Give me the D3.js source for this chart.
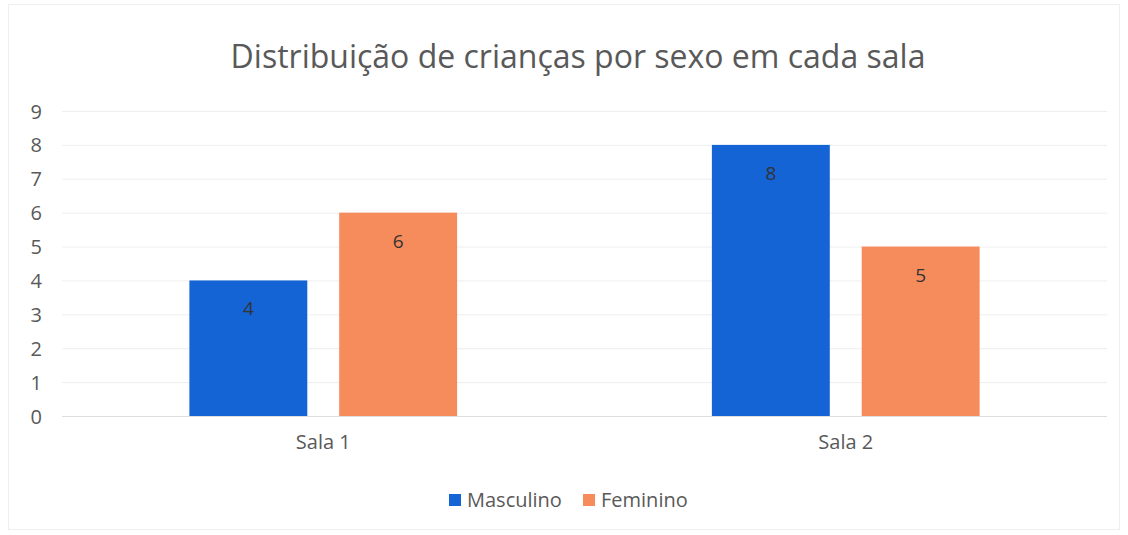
<!DOCTYPE html>
<html>
<head>
<meta charset="utf-8">
<script src="https://cdn.jsdelivr.net/npm/d3@7"></script>
<style>
  body { margin: 0; background: #fff; }
  svg text { font-family: "Open Sans", "Noto Sans", sans-serif; fill: #595959; }
</style>
</head>
<body>
<svg id="chart" width="1128" height="535"></svg>
<script>
const categories = ["Sala 1", "Sala 2"];
const series = ["Masculino", "Feminino"];
const masculino = [4, 8];
const feminino = [6, 5];
const yTicks = [0, 1, 2, 3, 4, 5, 6, 7, 8, 9];
const colors = ["#1464d6", "#f68b5c"];

const values = [masculino, feminino];
const rows = categories.map((c, i) => ({ cat: c, vals: series.map((s, j) => ({ s: s, v: values[j][i] })) }));

let svg = d3.select("#chart"),
    width = +svg.attr("width"),
    height = +svg.attr("height"),
    margin = { top: 111, right: 21, bottom: 119, left: 62 };

svg.append("rect")
    .attr("x", 8.5).attr("y", 4.5)
    .attr("width", width - 17).attr("height", height - 10)
    .attr("fill", "#fff").attr("stroke", "#eeeeee");

let x0 = d3.scaleBand().domain(categories)
    .range([margin.left, width - margin.right])
    .paddingInner(0.4876)
    .paddingOuter(0.2438);

let x1 = d3.scaleBand().domain(series)
    .range([0, x0.bandwidth()])
    .paddingInner(0.213);

let y = d3.scaleLinear().domain([0, 9])
    .range([height - margin.bottom, margin.top]);

// gridlines
svg.append("g")
    .selectAll("line").data(yTicks).enter().append("line")
    .attr("x1", margin.left).attr("x2", width - margin.right)
    .attr("y1", d => y(d) + 0.5).attr("y2", d => y(d) + 0.5)
    .attr("stroke", d => d === 0 ? "#dddddd" : "#eeeeee");

// y axis
let yAxis = svg.append("g")
    .attr("transform", "translate(" + (margin.left - 20) + ",0)")
    .call(d3.axisLeft(y).tickValues(yTicks).tickSize(0).tickPadding(0));
yAxis.select(".domain").remove();
yAxis.selectAll("text").style("font-size", "20px").attr("dy", "0.35em");

// x axis labels
let xAxis = svg.append("g")
    .attr("transform", "translate(0," + (height - margin.bottom) + ")")
    .call(d3.axisBottom(x0).tickSize(0).tickPadding(19));
xAxis.select(".domain").remove();
xAxis.selectAll("text").style("font-size", "20px");

// bars
let groups = svg.append("g").selectAll("g").data(rows).enter().append("g")
    .attr("transform", d => "translate(" + x0(d.cat) + ",0)");

groups.selectAll("rect").data(d => d.vals).enter().append("rect")
    .attr("x", d => x1(d.s))
    .attr("y", d => y(d.v))
    .attr("width", x1.bandwidth())
    .attr("height", d => y(0) - y(d.v))
    .attr("fill", (d, i) => colors[i]);

groups.selectAll("text.lbl").data(d => d.vals).enter().append("text")
    .classed("lbl", true)
    .attr("x", d => x1(d.s) + x1.bandwidth() / 2)
    .attr("y", d => y(d.v) + 35)
    .attr("text-anchor", "middle")
    .style("font-size", "19px")
    .style("fill", "#333")
    .text(d => d.v);

// title
svg.append("text")
    .attr("x", 578).attr("y", 68)
    .attr("text-anchor", "middle")
    .style("font-size", "32px")
    .text("Distribuição de crianças por sexo em cada sala");

// legend
let legend = svg.append("g").attr("transform", "translate(449,507)");
let lx = [0, 134];
series.forEach((s, i) => {
    legend.append("rect")
        .attr("x", lx[i]).attr("y", -13)
        .attr("width", 12).attr("height", 12)
        .attr("fill", colors[i]);
    legend.append("text")
        .attr("x", lx[i] + 18).attr("y", 0)
        .style("font-size", "20px")
        .text(s);
});
</script>
</body>
</html>
